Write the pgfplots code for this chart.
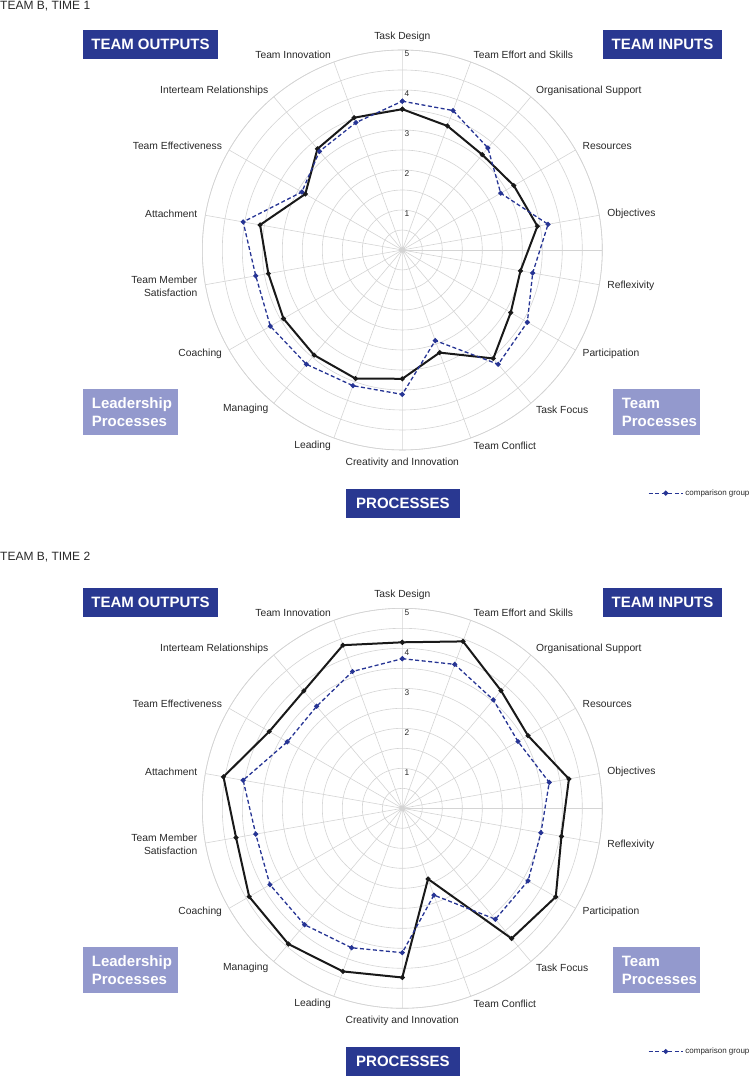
\documentclass[border=0pt]{standalone}
\usepackage{pgfplots}
\pgfplotsset{compat=1.18}
\usepgfplotslibrary{polar}
\usepackage{fontspec}
\setmainfont{Liberation Sans}
\definecolor{teamblue}{RGB}{41,56,145}
\definecolor{lilac}{RGB}{147,153,205}
\definecolor{cmpblue}{RGB}{38,52,148}
\definecolor{gridgray}{RGB}{212,212,212}
\definecolor{labgray}{RGB}{40,40,40}

\pgfplotsset{
  radar/.style={
    anchor=center, scale only axis, width=400pt, height=400pt,
    ymin=0, ymax=5, xmin=0, xmax=360,
    xtick={10,30,...,350}, xticklabels={},
    ytick={0.5,1,...,5}, yticklabels={},
    grid=major, major grid style={gridgray, line width=0.6pt},
    axis line style={gridgray, line width=0.6pt},
    major tick length=0pt,
    clip=false,
    legend style={draw=none, fill=none, at={(1.114,-0.108)}, anchor=west,
      font=\fontsize{8}{10}\selectfont, text=labgray, inner sep=0pt},
    legend image code/.code={\draw[mark repeat=2,mark phase=2,##1] plot coordinates {(0pt,0pt) (17pt,0pt) (34pt,0pt)};},
  },
}
\tikzset{
  team/.style={black!90, line width=2pt, mark=*, mark size=1.3pt, mark options={solid}},
  cmp/.style={cmpblue, line width=1.3pt, dash pattern=on 4pt off 2.5pt, mark=*, mark size=1.8pt, mark options={solid}},
  lab/.style={inner sep=0pt, font=\fontsize{10.3}{13}\selectfont, text=labgray},
  rlab/.style={anchor=north west, inner sep=0pt, xshift=2pt, yshift=-1pt, font=\fontsize{8.3}{9}\selectfont, text=labgray},
  boxtext/.style={text=white, font=\bfseries\fontsize{15}{17.3}\selectfont, inner sep=0pt},
}

% spoke names and radial numbers, same for both charts
\newcommand{\spokes}{%
  \node[lab,anchor=south] at (axis cs:90,5.2) {Task Design};
  \node[lab,anchor=west] at (axis cs:70,5.2) {Team Effort and Skills};
  \node[lab,anchor=west] at (axis cs:50,5.2) {Organisational Support};
  \node[lab,anchor=west] at (axis cs:30,5.2) {Resources};
  \node[lab,anchor=west] at (axis cs:10,5.2) {Objectives};
  \node[lab,anchor=west] at (axis cs:350,5.2) {Reflexivity};
  \node[lab,anchor=west] at (axis cs:330,5.2) {Participation};
  \node[lab,anchor=west] at (axis cs:310,5.2) {Task Focus};
  \node[lab,anchor=west] at (axis cs:290,5.2) {Team Conflict};
  \node[lab,anchor=north] at (axis cs:270,5.2) {Creativity and Innovation};
  \node[lab,anchor=east] at (axis cs:250,5.2) {Leading};
  \node[lab,anchor=east] at (axis cs:230,5.2) {Managing};
  \node[lab,anchor=east] at (axis cs:210,5.2) {Coaching};
  \node[lab,anchor=east,align=right] at (axis cs:190,5.2) {Team Member\\Satisfaction};
  \node[lab,anchor=east] at (axis cs:170,5.2) {Attachment};
  \node[lab,anchor=east] at (axis cs:150,5.2) {Team Effectiveness};
  \node[lab,anchor=east] at (axis cs:130,5.2) {Interteam Relationships};
  \node[lab,anchor=east] at (axis cs:110,5.2) {Team Innovation};
  \node[rlab] at (axis cs:90,1) {1};
  \node[rlab] at (axis cs:90,2) {2};
  \node[rlab] at (axis cs:90,3) {3};
  \node[rlab] at (axis cs:90,4) {4};
  \node[rlab] at (axis cs:90,5) {5};
}

% category boxes; #1 = vertical offset of the chart
\newcommand{\boxes}[1]{%
  \fill[teamblue] (82.7pt,{(1046-#1)*1pt}) rectangle (218.3pt,{(1016.7-#1)*1pt});
  \node[boxtext] at (150.5pt,{(1031.4-#1)*1pt}) {TEAM OUTPUTS};
  \fill[teamblue] (603.3pt,{(1046-#1)*1pt}) rectangle (721.7pt,{(1017-#1)*1pt});
  \node[boxtext] at (662.5pt,{(1031.5-#1)*1pt}) {TEAM INPUTS};
  \fill[lilac] (82.7pt,{(686.7-#1)*1pt}) rectangle (178.3pt,{(641-#1)*1pt});
  \node[boxtext,anchor=west,align=left] at (91.7pt,{(663.8-#1)*1pt}) {Leadership\\Processes};
  \fill[lilac] (613.3pt,{(686.7-#1)*1pt}) rectangle (700pt,{(640.7-#1)*1pt});
  \node[boxtext,anchor=west,align=left] at (621.7pt,{(663.7-#1)*1pt}) {Team\\Processes};
  \fill[teamblue] (345.7pt,{(587-#1)*1pt}) rectangle (460pt,{(558-#1)*1pt});
  \node[boxtext] at (402.85pt,{(572.5-#1)*1pt}) {PROCESSES};
}

\begin{document}
\begin{tikzpicture}
\path[use as bounding box] (0,0) rectangle (750pt,1076pt);

% ---------- TIME 1 ----------
\node[anchor=base west, inner sep=0pt, font=\fontsize{12}{14}\selectfont, text=labgray] at (0pt,1066.2pt) {TEAM B, TIME 1};
\boxes{0}
\begin{polaraxis}[radar, at={(402.3pt,826pt)}]
  \addplot[team, forget plot] coordinates {
    (90,3.52) (70,3.30) (50,3.11) (30,3.22) (10,3.43) (350,3.00)
    (330,3.13) (310,3.54) (290,2.73) (270,3.22) (250,3.42) (230,3.43)
    (210,3.43) (190,3.40) (170,3.61) (150,2.80) (130,3.30) (110,3.52) (90,3.52)};
  \addplot[cmp] coordinates {
    (90,3.72) (70,3.71) (50,3.33) (30,2.84) (10,3.70) (350,3.31)
    (330,3.61) (310,3.73) (290,2.41) (270,3.61) (250,3.61) (230,3.73)
    (210,3.81) (190,3.72) (170,4.04) (150,2.90) (130,3.22) (110,3.39) (90,3.72)};
  \addlegendentry{comparison group}
  \spokes
\end{polaraxis}

% ---------- TIME 2 ----------
\node[anchor=base west, inner sep=0pt, font=\fontsize{12}{14}\selectfont, text=labgray] at (0pt,515pt) {TEAM B, TIME 2};
\boxes{558}
\begin{polaraxis}[radar, at={(402.3pt,267.7pt)}]
  \addplot[team, forget plot] coordinates {
    (90,4.15) (70,4.44) (50,3.84) (30,3.63) (10,4.23) (350,4.04)
    (330,4.43) (310,4.25) (290,1.88) (270,4.23) (250,4.34) (230,4.43)
    (210,4.42) (190,4.22) (170,4.54) (150,3.84) (130,3.83) (110,4.34) (90,4.15)};
  \addplot[cmp] coordinates {
    (90,3.74) (70,3.83) (50,3.54) (30,3.34) (10,3.73) (350,3.52)
    (330,3.63) (310,3.62) (290,2.31) (270,3.61) (250,3.71) (230,3.80)
    (210,3.82) (190,3.72) (170,4.04) (150,3.32) (130,3.33) (110,3.64) (90,3.74)};
  \addlegendentry{comparison group}
  \spokes
\end{polaraxis}
\end{tikzpicture}
\end{document}
